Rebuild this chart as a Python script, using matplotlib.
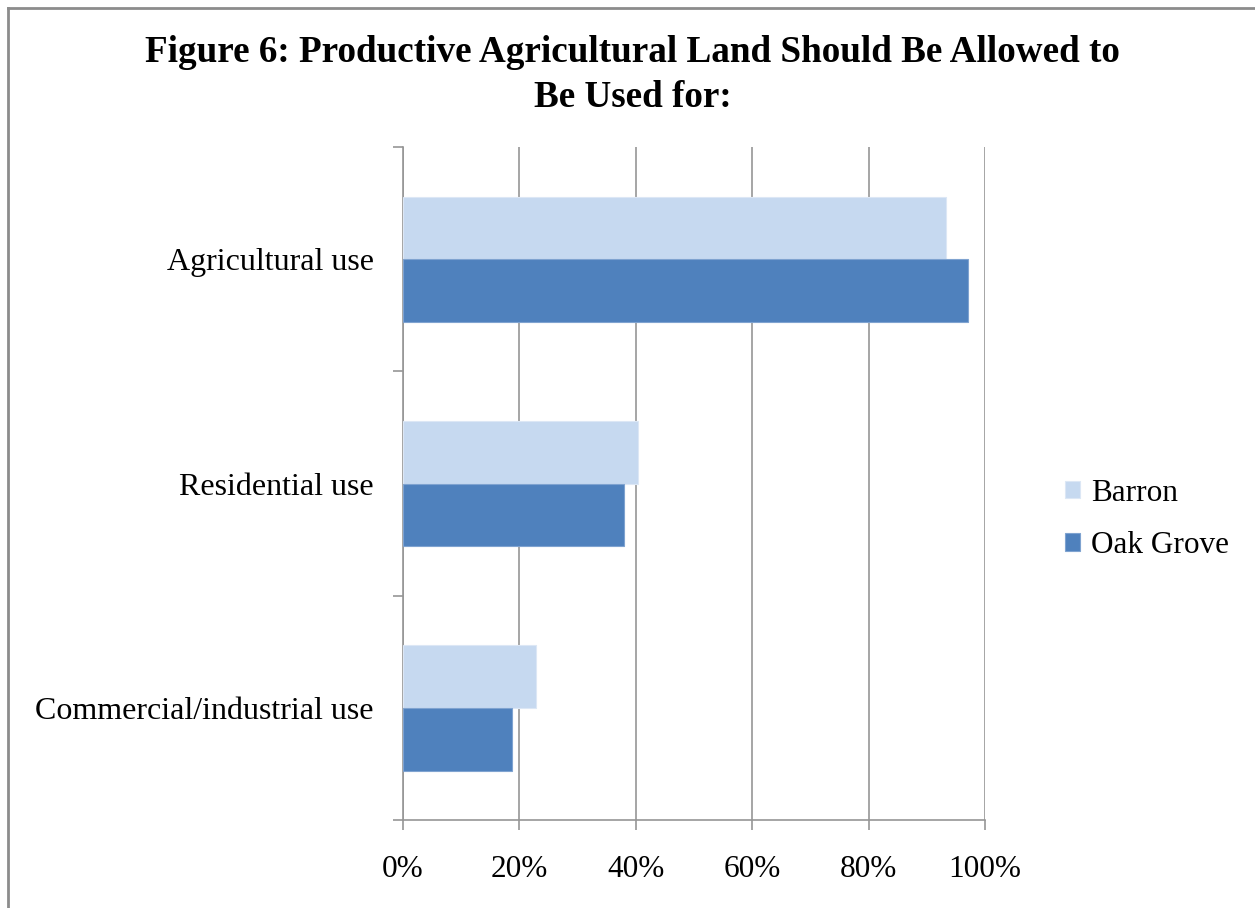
import matplotlib.pyplot as plt
from matplotlib.lines import Line2D
from matplotlib.ticker import FixedLocator, PercentFormatter

categories = ["Agricultural use", "Residential use", "Commercial/industrial use"]
barron = [93.3, 40.3, 22.8]
oak_grove = [97.1, 37.9, 18.8]
series_names = ["Barron", "Oak Grove"]
x_ticks = [0, 20, 40, 60, 80, 100]

plt.rcParams["font.family"] = ["Liberation Serif", "DejaVu Serif"]

fig = plt.figure(figsize=(12.55, 9.08), dpi=100)
ax = fig.add_axes([0.3211, 0.0969, 0.4637, 0.741])

ypos = list(range(len(categories)))
h = 0.28

ax.barh([y - h / 2 for y in ypos], barron, height=h,
        color="#C6D9F0", edgecolor="#DCE7F5", linewidth=0.8,
        label=series_names[0], zorder=3)
ax.barh([y + h / 2 for y in ypos], oak_grove, height=h,
        color="#4F81BD", edgecolor="#7FA3D0", linewidth=0.8,
        label=series_names[1], zorder=3)

ax.set_xlim(0, 100)
ax.set_ylim(len(categories) - 0.5, -0.5)

ax.set_xticks(x_ticks)
ax.xaxis.set_major_formatter(PercentFormatter(decimals=0))
ax.grid(axis="x", color="#969696", linewidth=1.2, zorder=0)

ax.set_yticks(ypos)
ax.set_yticklabels(categories)
ax.yaxis.set_minor_locator(FixedLocator([-0.5, 0.5, 1.5, 2.5]))
ax.tick_params(axis="y", which="major", length=0, pad=21, labelsize=23)
ax.tick_params(axis="y", which="minor", length=7, width=1.2, color="#969696")
ax.tick_params(axis="x", length=7, width=1.2, color="#969696",
               pad=18, labelsize=22.5)

for side in ["top", "right"]:
    ax.spines[side].set_visible(False)
for side in ["left", "bottom"]:
    ax.spines[side].set_color("#969696")
    ax.spines[side].set_linewidth(1.2)

fig.text(0.504, 0.962,
         "Figure 6: Productive Agricultural Land Should Be Allowed to\nBe Used for:",
         ha="center", va="top", fontsize=26.7, fontweight="bold", linespacing=1.4)

fig.legend(loc="center left", bbox_to_anchor=(0.826, 0.428), frameon=False,
           fontsize=22.5, handlelength=0.5, handleheight=0.5,
           handletextpad=0.35, labelspacing=0.75)

# chart area border (cropped on right and bottom)
fig.add_artist(Line2D([8 / 1255, 8 / 1255], [0, 1 - 8 / 908],
                      transform=fig.transFigure, color="#8C8C8C", linewidth=2))
fig.add_artist(Line2D([8 / 1255, 1], [1 - 8 / 908, 1 - 8 / 908],
                      transform=fig.transFigure, color="#8C8C8C", linewidth=2))

fig.savefig("out.png", dpi=100)
